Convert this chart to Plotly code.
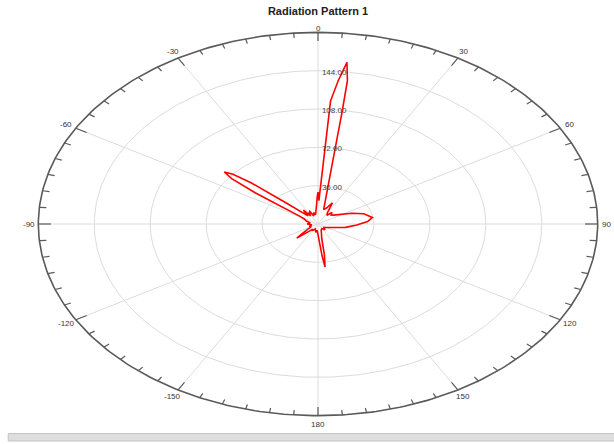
import numpy as np
import plotly.graph_objects as go

# Pattern samples: angle in degrees (0 = up, clockwise positive) and magnitude
theta_deg = [-180, -175, -170, -160, -150, -145, -140, -136, -134, -132, -128,
             -120, -110, -100, -90, -80, -70, -62, -58, -56, -54, -52.5, -51,
             -49.5, -48, -46, -44, -40, -36, -32, -28, -24, -20, -15, -10, -6,
             -3, -1, 0, 1.5, 3, 3.5, 4, 5.5, 7, 8, 8.4, 9.1, 10.3, 12, 15, 20,
             25, 30, 35, 40, 45, 50, 55, 60, 65, 72, 80, 86, 92, 100, 110, 120,
             130, 140, 150, 160, 165, 170, 172, 173.6, 175, 177, 180]
magnitude = [10, 6, 8, 5, 7, 6, 9, 14, 19, 14, 8,
             5, 6, 4, 7, 5, 8, 10, 14, 22, 50, 70, 77.6,
             72, 58, 28, 14, 10, 16, 9, 12, 13, 8, 11, 9, 14,
             18, 26, 30, 22, 45, 80, 116, 135, 153, 136, 105, 61, 32, 18, 14, 16,
             22, 12, 10, 14, 12, 13, 15, 19, 24, 31, 35.5, 32, 25, 18, 10, 6,
             5, 7, 5, 6, 8, 14, 30, 40.6, 30, 12, 10]

# Axis styling values
r_max = 180
ring_values = [36, 72, 108, 144]
ring_labels = ["36.00", "72.00", "108.00", "144.00"]
spoke_angles = [0, 30, 60, 90, 120, 150]
angle_labels = ["0", "30", "60", "90", "120", "150", "180",
                "-150", "-120", "-90", "-60", "-30"]
angle_label_pos = [0, 30, 60, 90, 120, 150, 180, -150, -120, -90, -60, -30]
title_text = "Radiation Pattern 1"

AX_LIM = 186  # half-width of both axis ranges


def to_xy(theta, r):
    t = np.radians(np.asarray(theta, dtype=float))
    r = np.asarray(r, dtype=float)
    return r * np.sin(t), r * np.cos(t)


def to_paper(v):
    return (v + AX_LIM) / (2 * AX_LIM)


fig = go.Figure()

# range rings
full = np.linspace(0, 360, 361)
for rv in ring_values:
    x, y = to_xy(full, np.full_like(full, rv))
    fig.add_trace(go.Scatter(x=x, y=y, mode="lines",
                             line=dict(color="#dcdcdc", width=1),
                             hoverinfo="skip", showlegend=False))

# spokes every 30 degrees
sx, sy = [], []
for a in spoke_angles:
    x, y = to_xy([a, a + 180], [r_max, r_max])
    sx += [x[0], x[1], None]
    sy += [y[0], y[1], None]
fig.add_trace(go.Scatter(x=sx, y=sy, mode="lines",
                         line=dict(color="#dcdcdc", width=1),
                         hoverinfo="skip", showlegend=False))

# outer boundary
x, y = to_xy(full, np.full_like(full, r_max))
fig.add_trace(go.Scatter(x=x, y=y, mode="lines",
                         line=dict(color="#5a5a5a", width=1.6),
                         hoverinfo="skip", showlegend=False))

# angular ticks: minor every 5 deg, major every 30 deg
tx, ty = [], []
for a in range(0, 360, 5):
    inner = 0.955 if a % 30 == 0 else 0.975
    x, y = to_xy([a, a], [r_max, r_max * inner])
    tx += [x[0], x[1], None]
    ty += [y[0], y[1], None]
fig.add_trace(go.Scatter(x=tx, y=ty, mode="lines",
                         line=dict(color="#5a5a5a", width=1.2),
                         hoverinfo="skip", showlegend=False))

# pattern trace
px, py = to_xy(theta_deg, magnitude)
fig.add_trace(go.Scatter(x=px, y=py, mode="lines",
                         line=dict(color="#ff0000", width=1.6),
                         hoverinfo="skip", showlegend=False))

# ring value labels beside the 0-degree spoke
fig.add_trace(go.Scatter(x=[2.5] * len(ring_values),
                         y=[rv - 2 for rv in ring_values],
                         mode="text", text=ring_labels,
                         textposition="middle right",
                         textfont=dict(family="Liberation Sans", size=8,
                                       color="#444444"),
                         cliponaxis=False, hoverinfo="skip", showlegend=False))

# angle labels just outside the boundary, placed in paper coordinates so
# that the ones beyond the axis range are still drawn
label_scale = {0: 1.02, 180: 1.045, 90: 1.03, -90: 1.035}
annotations = []
for lab, a in zip(angle_labels, angle_label_pos):
    scale = label_scale.get(a, 1.04)
    ax_, ay_ = to_xy([a], [r_max * scale])
    annotations.append(dict(x=to_paper(float(ax_[0])), y=to_paper(float(ay_[0])),
                            xref="paper", yref="paper",
                            text=lab, showarrow=False,
                            xanchor="center", yanchor="middle",
                            font=dict(family="Liberation Sans", size=8,
                                      color="#333333")))

axis_common = dict(range=[-AX_LIM, AX_LIM], showgrid=False, zeroline=False,
                   showticklabels=False, showline=False, ticks="",
                   fixedrange=True)

fig.update_layout(
    width=614, height=444,
    margin=dict(l=29, r=7, t=26, b=22),
    paper_bgcolor="white", plot_bgcolor="white",
    xaxis=axis_common, yaxis=axis_common,
    annotations=annotations,
    title=dict(text="<b>" + title_text + "</b>", x=0.518, xanchor="center",
               y=0.975, yanchor="middle",
               font=dict(family="Liberation Sans", size=11, color="#222222")),
    shapes=[dict(type="rect", xref="paper", yref="paper",
                 x0=-0.036, x1=1.02, y0=-0.048, y1=-0.029,
                 fillcolor="#dedede", line=dict(color="#c4c4c4", width=1))],
)

fig.write_html("out.html")
